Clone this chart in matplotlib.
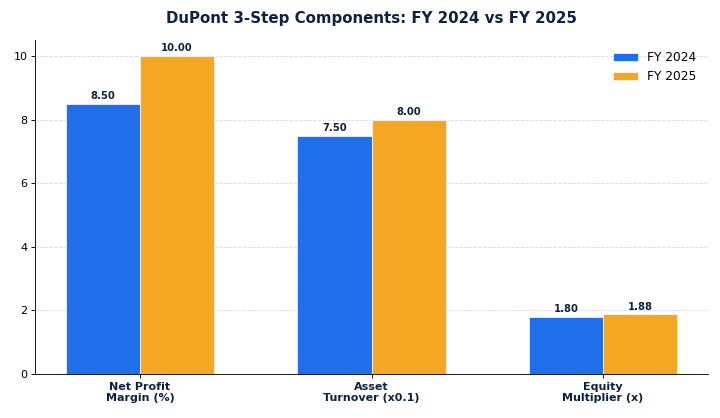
import matplotlib.pyplot as plt
import numpy as np

categories = ["Net Profit\nMargin (%)", "Asset\nTurnover (x0.1)", "Equity\nMultiplier (x)"]
fy2024 = [8.50, 7.50, 1.80]
fy2025 = [10.00, 8.00, 1.88]

navy = "#0d2344"
blue = "#1f6feb"
orange = "#f5a623"

fig, ax = plt.subplots(figsize=(9, 5.225), dpi=80)
x = np.arange(len(categories))
w = 0.32

b1 = ax.bar(x - w / 2, fy2024, w, color=blue, edgecolor="white", linewidth=0.6, label="FY 2024", zorder=3)
b2 = ax.bar(x + w / 2, fy2025, w, color=orange, edgecolor="white", linewidth=0.6, label="FY 2025", zorder=3)

for bars in (b1, b2):
    for r in bars:
        h = r.get_height()
        ax.text(r.get_x() + r.get_width() / 2, h + 0.08, f"{h:.2f}", ha="center", va="bottom",
                fontsize=9, fontweight="bold", color=navy)

ax.set_xticks(x)
ax.set_xticklabels(categories, fontsize=10, fontweight="bold", color=navy)
ax.set_ylim(0, 10.5)
ax.grid(axis="y", linestyle="--", color="#dddddd", linewidth=0.8, zorder=0)
ax.spines["top"].set_visible(False)
ax.spines["right"].set_visible(False)
ax.set_title("DuPont 3-Step Components: FY 2024 vs FY 2025", fontsize=13.5, fontweight="bold",
             color=navy, pad=15)
ax.legend(frameon=False, loc="upper right", fontsize=11)

fig.subplots_adjust(left=0.049, right=0.983, top=0.904, bottom=0.105)
fig.savefig("out.png")
